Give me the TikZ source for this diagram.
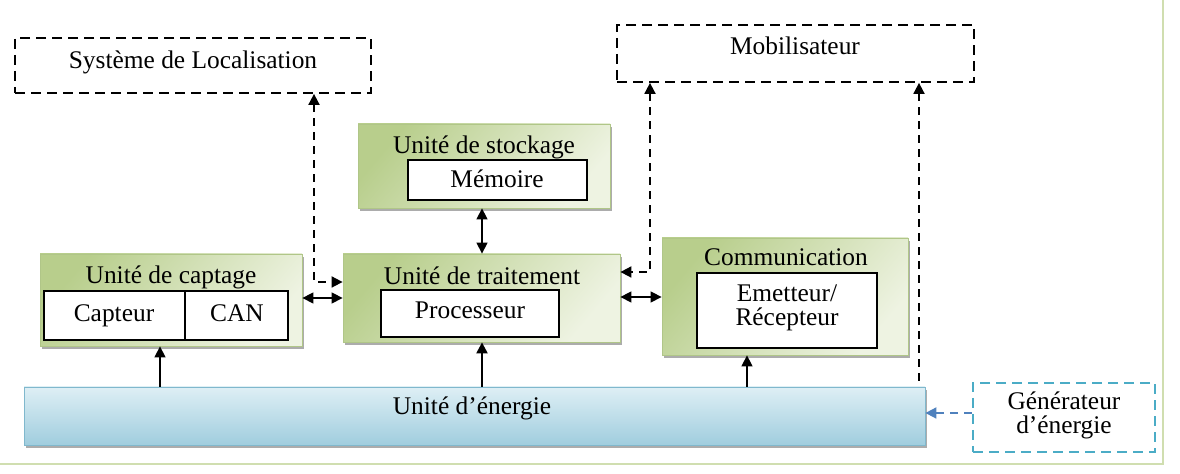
\documentclass[tikz,border=0pt]{standalone}
\usepackage{fontspec}
\setmainfont{Liberation Serif}
\usetikzlibrary{fit,shadows,arrows.meta}
\definecolor{gA}{RGB}{184,206,140}
\definecolor{gB}{RGB}{238,243,226}
\definecolor{gEdge}{RGB}{176,198,136}
\definecolor{bA}{RGB}{222,239,245}
\definecolor{bB}{RGB}{160,205,222}
\definecolor{bEdge}{RGB}{128,184,205}
\definecolor{frameC}{RGB}{208,222,176}
\definecolor{genC}{RGB}{75,172,198}
\definecolor{arrB}{RGB}{79,129,189}
\begin{document}
\begin{tikzpicture}[x=0.5pt,y=-0.5pt,
  font=\fontsize{12.7}{12}\selectfont,
  gbox/.style={draw=gEdge, line width=0.4pt, top color=gA, bottom color=gB, shading angle=50,
    inner sep=0pt, drop shadow={shadow xshift=1.2pt, shadow yshift=-1.4pt, fill=gray!65, opacity=1}},
  ebox/.style={draw=bEdge, line width=0.4pt, top color=bA, bottom color=bB,
    inner sep=0pt, drop shadow={shadow xshift=1.2pt, shadow yshift=-1.4pt, fill=gray!65, opacity=1}},
  wbox/.style={draw=black, line width=0.8pt, fill=white, inner sep=0pt},
  dbox/.style={draw=black, line width=0.9pt, dash pattern=on 5pt off 3pt, inner sep=0pt},
  gbox2/.style={draw=genC, line width=0.9pt, dash pattern=on 5pt off 3pt, inner sep=0pt},
  txt/.style={inner sep=0pt, anchor=center, text height=8.8pt, text depth=2.6pt},
  txt2/.style={inner sep=0pt, anchor=center, align=center, font=\fontsize{12.7}{12}\selectfont},
  link/.style={draw=black, line width=0.7pt, {Triangle[length=5.5pt,width=5.5pt]}-{Triangle[length=5.5pt,width=5.5pt]}},
  feed/.style={draw=black, line width=0.7pt, -{Triangle[length=5.5pt,width=5.5pt]}},
  dlink/.style={draw=black, line width=0.9pt, dash pattern=on 4pt off 3pt,
    {Triangle[length=5.5pt,width=5.5pt]}-{Triangle[length=5.5pt,width=5.5pt]}},
  dfeed/.style={draw=black, line width=0.9pt, dash pattern=on 4pt off 3pt,
    {Triangle[length=5.5pt,width=5.5pt]}-},
  gfeed/.style={draw=arrB, line width=0.9pt, dash pattern=on 4pt off 3pt, -{Triangle[length=5.5pt,width=5.5pt]}}
]
\useasboundingbox (0,0) rectangle (1180,474);
% outer frame
\draw[frameC, line width=1.2pt] (0,464) -- (1163,464) -- (1163,0);

% dashed external boxes
\node[dbox, fit={(15,38) (371,93)}] (sys) {};
\node[txt] (systxt) at (193,62) {Système de Localisation};
\node[dbox, fit={(617,25) (974,82)}] (mob) {};
\node[txt] (mobtxt) at (795,48) {Mobilisateur};
\node[gbox2, fit={(973,383) (1155,452)}] (gen) {};
\node[txt2] (gentxt) at (1064,415) {Générateur\\d’énergie};

% storage
\node[gbox, fit={(358,124) (610,208)}] (stock) {};
\node[txt] (stocktxt) at (484,147) {Unité de stockage};
\node[wbox, fit={(408,160) (587,200)}] (mem) {};
\node[txt] (memtxt) at (497,181) {Mémoire};

% sensing
\node[gbox, fit={(40,254) (302,346)}] (capt) {};
\node[txt] (capttxt) at (171,277) {Unité de captage};
\node[wbox, fit={(44,291) (185,340)}] (capteur) {};
\node[txt] (capteurtxt) at (114,315) {Capteur};
\node[wbox, fit={(185,291) (288,340)}] (can) {};
\node[txt] (cantxt) at (237,315) {CAN};

% processing
\node[gbox, fit={(343,254) (620,342)}] (trait) {};
\node[txt] (traittxt) at (482,278) {Unité de traitement};
\node[wbox, fit={(381,290) (559,337)}] (proc) {};
\node[txt] (proctxt) at (470,312) {Processeur};

% communication
\node[gbox, fit={(662,238) (908,355)}] (comm) {};
\node[txt] (commtxt) at (786,259) {Communication};
\node[wbox, fit={(697,273) (877,348)}] (emet) {};
\node[txt2] (emettxt) at (787,308) {Emetteur/\\Récepteur};

% energy
\node[ebox, fit={(24,387) (925,445)}] (ener) {};
\node[txt] (enertxt) at (472,408) {Unité d’énergie};

% helper coordinates
\coordinate (c1) at (314,282);
\coordinate (c2) at (650,272);
\coordinate (c3) at (919,0);
\coordinate (x482) at (482,0);
\coordinate (x160) at (160,0);
\coordinate (x747) at (747,0);
\coordinate (y298) at (0,298);
\coordinate (y297) at (0,297);
\coordinate (y413) at (0,413);

% dashed links
\draw[dlink] (sys.south -| c1) -- (c1) -- (c1 -| trait.west);
\draw[dlink] (mob.south -| c2) -- (c2) -- (c2 -| trait.east);
\draw[dfeed] (mob.south -| c3) -- (ener.north -| c3);
\draw[gfeed] (gen.west |- y413) -- (ener.east |- y413);

% solid links
\draw[link] (stock.south -| x482) -- (trait.north -| x482);
\draw[link] (capt.east |- y298) -- (trait.west |- y298);
\draw[link] (trait.east |- y297) -- (comm.west |- y297);
\draw[feed] (ener.north -| x160) -- (capt.south -| x160);
\draw[feed, line width=1.1pt] (ener.north -| x482) -- (trait.south -| x482);
\draw[feed] (ener.north -| x747) -- (comm.south -| x747);
\end{tikzpicture}
\end{document}
